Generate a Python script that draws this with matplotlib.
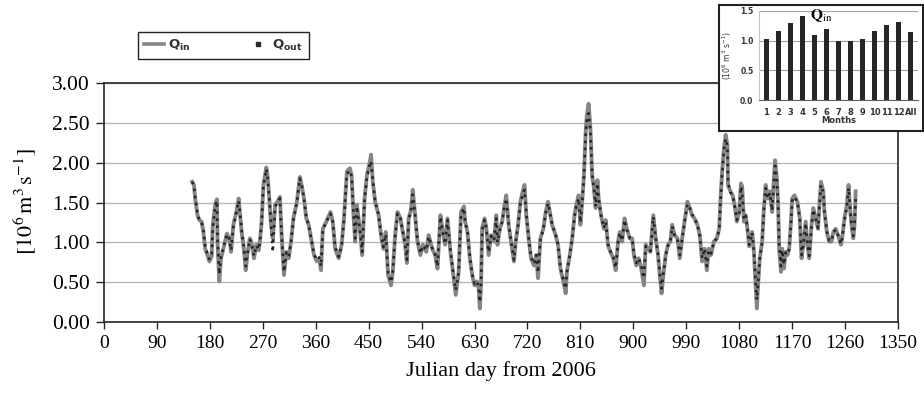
import numpy as np
import matplotlib.pyplot as plt
from matplotlib.lines import Line2D
from matplotlib.ticker import FormatStrFormatter

plt.rcParams['mathtext.fontset'] = 'stix'

# daily discharge (Julian day from 2006)
day = [150, 153, 155, 159, 162, 166, 169, 172, 176, 179,
       183, 185, 189, 192, 193, 196, 199, 203, 209, 213,
       216, 220, 225, 229, 231, 234, 237, 241, 244, 248,
       251, 255, 259, 263, 265, 268, 271, 276, 278, 281,
       284, 287, 291, 295, 299, 302, 306, 310, 314, 318,
       322, 328, 333, 336, 340, 344, 348, 353, 357, 362,
       366, 369, 372, 378, 385, 389, 393, 399, 404, 408,
       413, 418, 421, 424, 427, 430, 435, 439, 443, 447,
       452, 454, 457, 461, 467, 471, 475, 479, 483, 488,
       491, 495, 499, 504, 508, 512, 515, 518, 522, 525,
       529, 533, 538, 542, 548, 552, 558, 563, 567, 572,
       576, 580, 584, 589, 594, 598, 603, 607, 612, 614,
       618, 622, 626, 630, 634, 637, 639, 641, 643, 647,
       650, 654, 658, 663, 667, 669, 673, 677, 681, 684,
       688, 692, 697, 700, 704, 708, 712, 715, 718, 722,
       726, 731, 735, 738, 742, 747, 751, 755, 758, 762,
       768, 772, 776, 781, 785, 787, 792, 796, 800, 803,
       807, 810, 813, 816, 819, 821, 824, 827, 830, 833,
       836, 839, 841, 845, 850, 853, 857, 861, 866, 870,
       874, 877, 881, 885, 889, 894, 898, 901, 905, 909,
       913, 918, 921, 925, 929, 934, 938, 942, 945, 948,
       951, 955, 959, 963, 966, 970, 975, 979, 983, 987,
       992, 996, 1000, 1004, 1009, 1013, 1017, 1021, 1025, 1028,
       1032, 1037, 1042, 1046, 1048, 1051, 1054, 1057, 1060, 1061,
       1065, 1069, 1073, 1076, 1080, 1083, 1085, 1088, 1091, 1094,
       1097, 1099, 1102, 1105, 1108, 1110, 1112, 1115, 1119, 1122,
       1125, 1129, 1132, 1136, 1139, 1141, 1144, 1146, 1148, 1151,
       1153, 1156, 1159, 1162, 1165, 1168, 1170, 1174, 1179, 1183,
       1186, 1189, 1193, 1196, 1199, 1203, 1206, 1210, 1214, 1216,
       1219, 1223, 1225, 1229, 1233, 1237, 1240, 1244, 1248, 1253,
       1255, 1259, 1263, 1266, 1269, 1271, 1274, 1276, 1278]

q_in = [1.76, 1.72, 1.55, 1.34, 1.28, 1.26, 1.13, 0.92, 0.84, 0.76,
        0.82, 1.22, 1.47, 1.54, 1.01, 0.51, 0.80, 0.92, 1.11, 1.05,
        0.88, 1.22, 1.38, 1.55, 1.38, 1.13, 0.97, 0.65, 0.86, 1.05,
        0.99, 0.80, 0.97, 0.90, 1.01, 1.26, 1.72, 1.94, 1.84, 1.55,
        1.22, 1.05, 1.47, 1.51, 1.57, 1.09, 0.59, 0.88, 0.80, 1.01,
        1.30, 1.51, 1.82, 1.72, 1.55, 1.30, 1.22, 1.01, 0.84, 0.76,
        0.80, 0.65, 1.17, 1.26, 1.38, 1.26, 0.92, 0.80, 0.97, 1.30,
        1.89, 1.93, 1.84, 1.38, 1.01, 1.47, 1.17, 0.84, 1.55, 1.84,
        2.01, 2.10, 1.76, 1.51, 1.34, 1.09, 0.92, 1.13, 0.59, 0.46,
        0.63, 1.09, 1.38, 1.30, 1.13, 0.97, 0.74, 1.30, 1.41, 1.66,
        1.34, 1.01, 0.84, 0.97, 0.88, 1.09, 0.92, 0.84, 0.67, 1.34,
        1.13, 0.97, 1.30, 0.88, 0.59, 0.34, 0.63, 1.38, 1.45, 1.26,
        1.13, 0.80, 0.59, 0.46, 0.51, 0.42, 0.17, 0.46, 1.18, 1.30,
        1.18, 0.84, 1.09, 1.01, 1.34, 0.97, 1.17, 1.26, 1.47, 1.59,
        1.22, 1.01, 0.76, 1.01, 1.22, 1.51, 1.64, 1.72, 1.34, 1.05,
        0.80, 0.71, 0.84, 0.55, 1.05, 1.17, 1.38, 1.51, 1.38, 1.22,
        1.09, 0.97, 0.67, 0.51, 0.36, 0.63, 0.84, 1.05, 1.34, 1.47,
        1.59, 1.22, 1.51, 1.84, 2.39, 2.60, 2.74, 2.43, 1.84, 1.68,
        1.43, 1.78, 1.55, 1.34, 1.17, 1.28, 0.96, 0.88, 0.80, 0.65,
        1.01, 1.13, 1.01, 1.30, 1.17, 1.05, 1.05, 0.84, 0.71, 0.80,
        0.69, 0.46, 0.97, 0.92, 0.88, 1.34, 1.05, 0.84, 0.59, 0.36,
        0.59, 0.84, 0.97, 1.01, 1.22, 1.09, 1.05, 0.80, 1.05, 1.26,
        1.51, 1.43, 1.34, 1.30, 1.22, 1.09, 0.76, 0.92, 0.65, 0.92,
        0.84, 1.01, 1.05, 1.17, 1.51, 1.89, 2.18, 2.35, 2.22, 1.72,
        1.64, 1.59, 1.43, 1.26, 1.38, 1.74, 1.70, 1.26, 1.34, 1.17,
        0.95, 1.01, 1.13, 0.88, 0.46, 0.17, 0.46, 0.80, 1.01, 1.43,
        1.72, 1.55, 1.64, 1.38, 1.80, 2.03, 1.80, 1.51, 0.92, 0.63,
        0.92, 0.67, 0.88, 0.84, 0.92, 1.26, 1.55, 1.59, 1.51, 1.30,
        0.80, 0.97, 1.26, 0.97, 0.80, 1.22, 1.43, 1.30, 1.17, 1.43,
        1.76, 1.64, 1.38, 1.13, 1.01, 1.01, 1.13, 1.17, 1.09, 0.97,
        1.05, 1.30, 1.47, 1.72, 1.38, 1.22, 1.05, 1.22, 1.64]

q_out = [1.76, 1.70, 1.57, 1.36, 1.28, 1.25, 1.15, 0.95, 0.85, 0.79,
         0.83, 1.18, 1.45, 1.52, 1.05, 0.60, 0.82, 0.93, 1.10, 1.05,
         0.90, 1.20, 1.38, 1.52, 1.38, 1.15, 0.98, 0.70, 0.86, 1.04,
         0.98, 0.83, 0.96, 0.91, 1.00, 1.24, 1.70, 1.92, 1.83, 1.56,
         1.24, 0.88, 1.45, 1.50, 1.55, 1.10, 0.63, 0.87, 0.82, 1.00,
         1.28, 1.50, 1.80, 1.72, 1.55, 1.31, 1.22, 1.02, 0.85, 0.78,
         0.81, 0.70, 1.15, 1.26, 1.36, 1.25, 0.94, 0.82, 0.96, 1.28,
         1.86, 1.90, 1.82, 1.40, 1.05, 1.45, 1.16, 0.88, 1.52, 1.82,
         1.98, 2.02, 1.78, 1.52, 1.34, 1.10, 0.94, 1.10, 0.62, 0.50,
         0.64, 1.07, 1.36, 1.30, 1.14, 0.97, 0.78, 1.28, 1.40, 1.60,
         1.34, 1.02, 0.86, 0.96, 0.90, 1.07, 0.93, 0.85, 0.70, 1.32,
         1.13, 0.98, 1.28, 0.90, 0.60, 0.40, 0.62, 1.35, 1.43, 1.26,
         1.14, 0.82, 0.60, 0.48, 0.51, 0.44, 0.25, 0.48, 1.15, 1.28,
         1.18, 0.88, 1.08, 1.02, 1.30, 1.00, 1.16, 1.26, 1.45, 1.55,
         1.23, 1.02, 0.78, 1.00, 1.21, 1.49, 1.60, 1.66, 1.36, 1.06,
         0.82, 0.73, 0.84, 0.62, 1.03, 1.17, 1.37, 1.49, 1.38, 1.22,
         1.09, 0.97, 0.69, 0.53, 0.42, 0.62, 0.84, 1.04, 1.32, 1.45,
         1.55, 1.25, 1.50, 1.82, 2.36, 2.55, 2.62, 2.40, 1.85, 1.68,
         1.45, 1.74, 1.55, 1.34, 1.18, 1.26, 0.98, 0.89, 0.81, 0.68,
         1.00, 1.12, 1.02, 1.28, 1.16, 1.05, 1.04, 0.86, 0.74, 0.80,
         0.72, 0.55, 0.95, 0.92, 0.89, 1.32, 1.06, 0.85, 0.62, 0.42,
         0.60, 0.84, 0.96, 1.01, 1.20, 1.09, 1.04, 0.84, 1.04, 1.25,
         1.48, 1.43, 1.35, 1.30, 1.22, 1.08, 0.80, 0.92, 0.70, 0.90,
         0.86, 1.00, 1.05, 1.16, 1.48, 1.86, 2.15, 2.30, 2.20, 1.75,
         1.63, 1.58, 1.43, 1.28, 1.37, 1.70, 1.62, 1.28, 1.33, 1.18,
         0.97, 1.01, 1.12, 0.90, 0.50, 0.28, 0.48, 0.80, 1.00, 1.40,
         1.68, 1.55, 1.62, 1.40, 1.76, 1.96, 1.78, 1.50, 0.95, 0.70,
         0.90, 0.72, 0.87, 0.85, 0.92, 1.24, 1.52, 1.57, 1.50, 1.30,
         0.84, 0.97, 1.24, 0.98, 0.83, 1.20, 1.41, 1.30, 1.18, 1.40,
         1.72, 1.62, 1.38, 1.14, 1.02, 1.02, 1.12, 1.16, 1.09, 0.98,
         1.05, 1.28, 1.45, 1.68, 1.38, 1.22, 1.08, 1.20, 1.55]

# monthly mean Qin (inset)
months = ['1', '2', '3', '4', '5', '6', '7', '8', '9', '10', '11', '12', 'All']
q_month = [1.02, 1.16, 1.29, 1.41, 1.09, 1.19, 0.99, 0.99, 1.02, 1.16, 1.27, 1.31, 1.15]

W, H = 924, 394
fig = plt.figure(figsize=(W / 100, H / 100), dpi=100)

def box(x0, y0, x1, y1):
    # pixel box -> figure fraction
    return [x0 / W, 1 - y1 / H, (x1 - x0) / W, (y1 - y0) / H]

ax = fig.add_axes(box(104, 83, 898, 322))
ax.plot(day, q_in, color='#858585', lw=2.8, solid_joinstyle='round', zorder=2)
ax.plot(day, q_out, color='#262626', lw=1.9, linestyle=(0, (1, 1.7)), zorder=3)

ax.set_xlim(0, 1350)
ax.set_ylim(0, 3)
ax.set_xticks(np.arange(0, 1351, 90))
ax.set_yticks(np.arange(0, 3.01, 0.5))
ax.yaxis.set_major_formatter(FormatStrFormatter('%.2f'))
ax.grid(axis='y', color='#b8b8b8', lw=1.0)
ax.set_axisbelow(True)
for s in ax.spines.values():
    s.set_color('#262626')
    s.set_linewidth(1.2)
ax.tick_params(axis='x', length=5, width=1, labelsize=14, pad=4, color='#262626')
ax.tick_params(axis='y', length=6, width=1, labelsize=15.5, pad=4, color='#262626')
for lab in ax.get_xticklabels() + ax.get_yticklabels():
    lab.set_family('Liberation Serif')
ax.set_xlabel('Julian day from 2006', family='Liberation Serif', fontsize=16, labelpad=7)
fig.text(25 / W, 1 - 202 / H, r'$[10^{6}\,\mathrm{m}^{3}\,\mathrm{s}^{-1}]$',
         rotation=90, ha='center', va='center', fontsize=16, math_fontfamily='stix')

handles = [Line2D([], [], color='#858585', lw=2.6),
           Line2D([], [], color='#2b2b2b', lw=0, marker='s', markersize=2.2)]
leg = fig.legend(handles, [r'$\mathbf{Q}_{\mathbf{in}}$', r'$\mathbf{Q}_{\mathbf{out}}$'],
                 loc='center', bbox_to_anchor=(223.5 / W, 1 - 45.5 / H), ncol=2,
                 fancybox=False, edgecolor='#222222', fontsize=9.5, handlelength=1.5,
                 handletextpad=0.3, columnspacing=4.4, borderpad=0.45, framealpha=1)
leg.get_frame().set_linewidth(1.0)
for t in leg.get_texts():
    t.set_math_fontfamily('dejavusans')
    t.set_color('#333333')

# inset box with monthly bars
frame = fig.add_axes(box(719, 5, 923, 131))
frame.set_xticks([])
frame.set_yticks([])
for s in frame.spines.values():
    s.set_color('#222222')
    s.set_linewidth(1.5)

ins = fig.add_axes(box(759, 11, 918, 100))
x = np.arange(len(months))
ins.bar(x, q_month, width=0.45, color='#262626', zorder=3)
ins.set_xlim(-0.6, len(months) - 0.4)
ins.set_ylim(0, 1.5)
ins.set_yticks([0, 0.5, 1.0, 1.5])
ins.set_yticklabels(['0.0', '0.5', '1.0', '1.5'])
ins.set_xticks(x)
ins.set_xticklabels(months)
ins.grid(axis='y', color='#a0a0a0', lw=0.8)
ins.set_axisbelow(True)
ins.patch.set_alpha(0)
for k in ['top', 'right']:
    ins.spines[k].set_visible(False)
ins.spines['left'].set_color('#c8c8c8')
ins.spines['bottom'].set_color('#606060')
ins.tick_params(axis='x', length=0, labelsize=6, pad=6, labelcolor='#333333')
ins.tick_params(axis='y', length=0, labelsize=5.5, pad=4, labelcolor='#333333')
for lab in ins.get_xticklabels() + ins.get_yticklabels():
    lab.set_fontweight('bold')
ins.set_xlabel('Months', fontsize=6, fontweight='bold', color='#333333', labelpad=-1)
fig.text(727 / W, 1 - 55 / H, r'$(10^{6}\ \mathrm{m}^{3}\ \mathrm{s}^{-1})$', rotation=90,
         ha='center', va='center', fontsize=5.5, color='#333333', math_fontfamily='dejavusans')
fig.text(821 / W, 1 - 16 / H, r'$\mathbf{Q}_{\mathrm{in}}$', ha='center', va='center',
         fontsize=11, math_fontfamily='stix')

fig.savefig('out.png', dpi=100, facecolor='white')
